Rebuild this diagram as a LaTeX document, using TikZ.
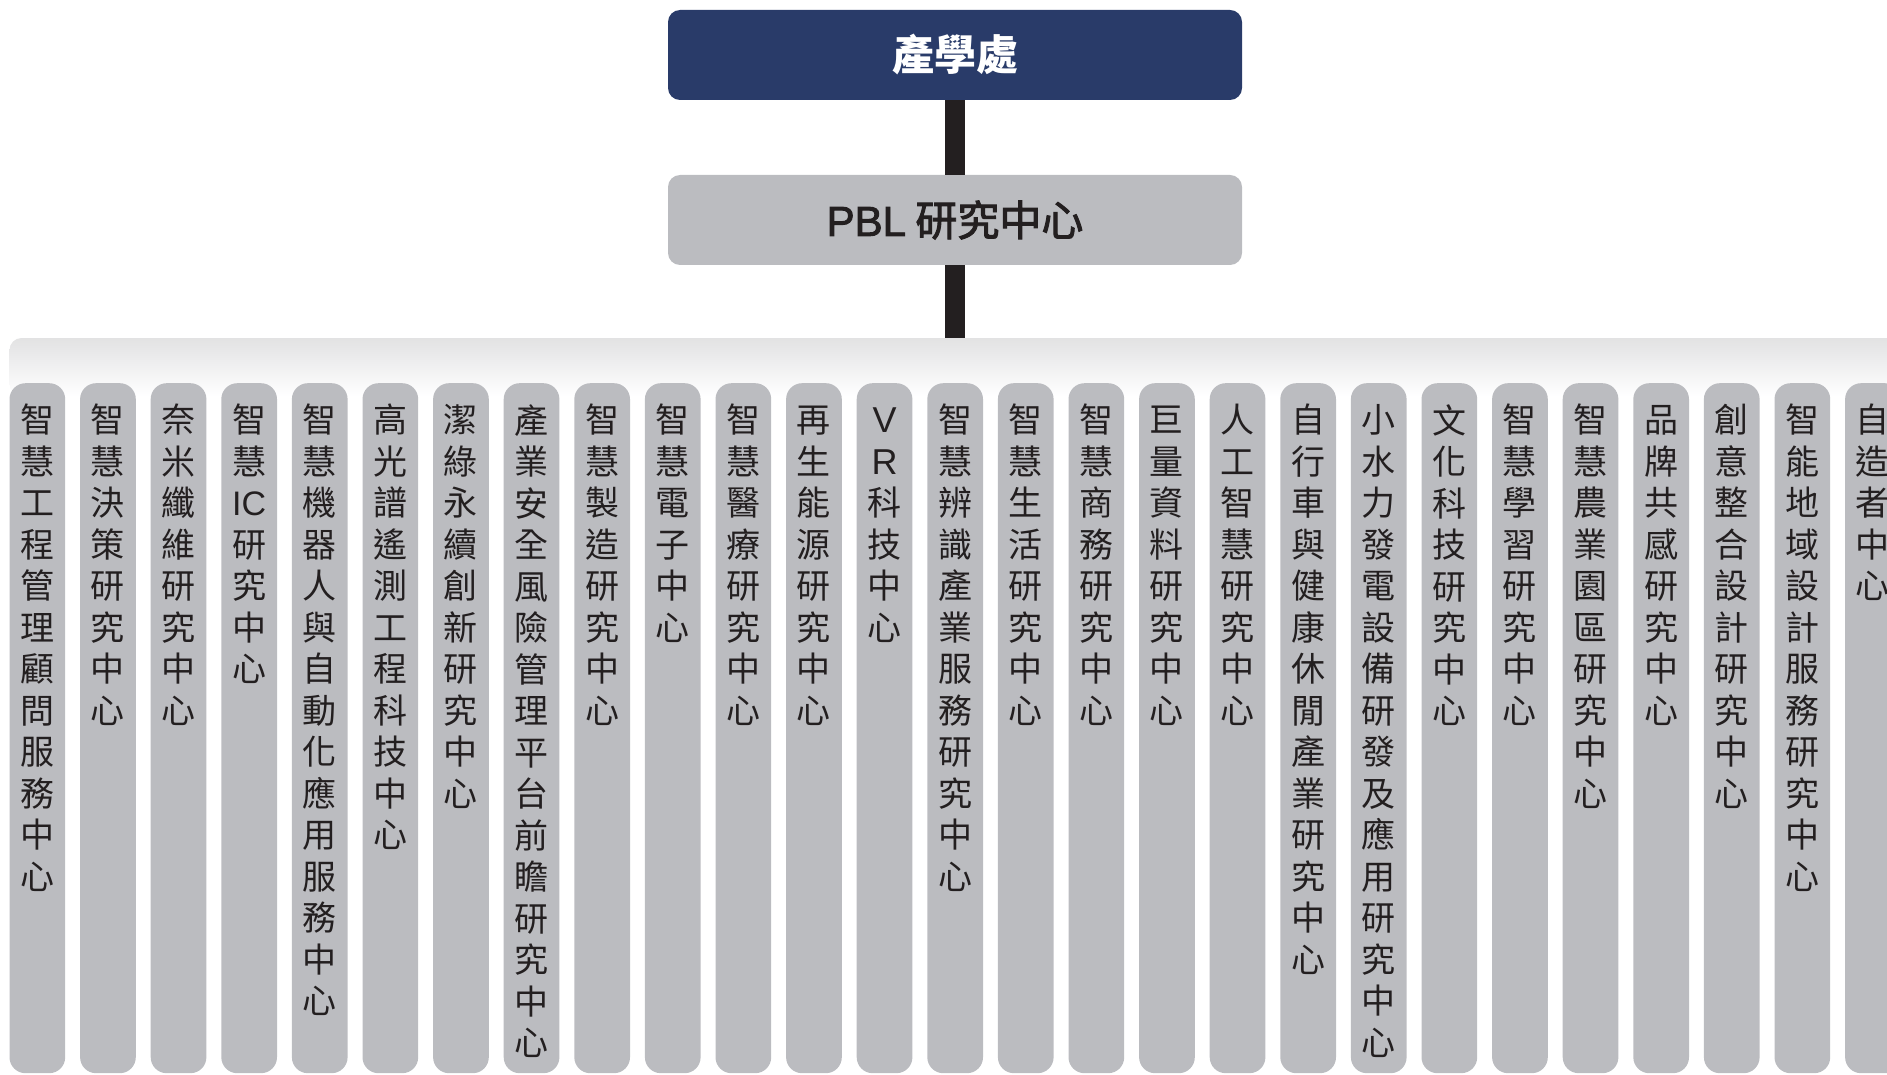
\documentclass[tikz,border=0pt]{standalone}
\usepackage{fontspec}
\setmainfont{Noto Sans CJK TC}
\newfontfamily\lat{Liberation Sans}
\newfontfamily\latmed{Liberation Sans}[FakeBold=2.2]
\newfontfamily\cjkmed{Noto Sans CJK TC}[FakeBold=2.2]
\usetikzlibrary{positioning}
\definecolor{navy}{HTML}{293B69}
\definecolor{boxgray}{HTML}{BBBCC0}
\definecolor{ink}{HTML}{231F20}
\definecolor{bargray}{HTML}{E2E2E3}
\begin{document}
\begin{tikzpicture}[x=1pt,y=-1pt,
  topbox/.style={fill=navy, rounded corners=12pt, minimum width=574pt, minimum height=90pt, inner sep=0pt, text=white, font=\fontsize{42}{50}\selectfont\bfseries},
  midbox/.style={fill=boxgray, rounded corners=12pt, minimum width=574pt, minimum height=90pt, inner sep=0pt, text=ink, font=\fontsize{42}{50}\selectfont\cjkmed},
  link/.style={draw=ink, line width=20pt},
  colbox/.style={fill=boxgray, rounded corners=16pt, minimum width=55.7pt, minimum height=690pt, inner sep=0pt, anchor=north west},
  coltext/.style={text=ink, font=\fontsize{34}{41.5}\selectfont, align=center, anchor=north, inner sep=0pt},
]
\useasboundingbox (0,0) rectangle (1887,1075);
% bar
\shade[top color=bargray, bottom color=white, rounded corners=12pt] (9.5,338) rectangle (1930,396);
\coordinate (bartop) at (955,338);
% boxes
\node[topbox] (top) at (955,55) {產學處};
\node[midbox] (pbl) at (955,220) {{\latmed PBL} 研究中心};
\draw[link] (top.south) -- (pbl.north);
\draw[link] (pbl.south) -- (bartop);
% columns
\foreach \t [count=\i from 0] in {
 {智\\慧\\工\\程\\管\\理\\顧\\問\\服\\務\\中\\心},
 {智\\慧\\決\\策\\研\\究\\中\\心},
 {奈\\米\\纖\\維\\研\\究\\中\\心},
 {智\\慧\\{\lat IC}\\研\\究\\中\\心},
 {智\\慧\\機\\器\\人\\與\\自\\動\\化\\應\\用\\服\\務\\中\\心},
 {高\\光\\譜\\遙\\測\\工\\程\\科\\技\\中\\心},
 {潔\\綠\\永\\續\\創\\新\\研\\究\\中\\心},
 {產\\業\\安\\全\\風\\險\\管\\理\\平\\台\\前\\瞻\\研\\究\\中\\心},
 {智\\慧\\製\\造\\研\\究\\中\\心},
 {智\\慧\\電\\子\\中\\心},
 {智\\慧\\醫\\療\\研\\究\\中\\心},
 {再\\生\\能\\源\\研\\究\\中\\心},
 {{\fontsize{36}{41.5}\selectfont\lat V}\\{\fontsize{36}{41.5}\selectfont\lat R}\\科\\技\\中\\心},
 {智\\慧\\辨\\識\\產\\業\\服\\務\\研\\究\\中\\心},
 {智\\慧\\生\\活\\研\\究\\中\\心},
 {智\\慧\\商\\務\\研\\究\\中\\心},
 {巨\\量\\資\\料\\研\\究\\中\\心},
 {人\\工\\智\\慧\\研\\究\\中\\心},
 {自\\行\\車\\與\\健\\康\\休\\閒\\產\\業\\研\\究\\中\\心},
 {小\\水\\力\\發\\電\\設\\備\\研\\發\\及\\應\\用\\研\\究\\中\\心},
 {文\\化\\科\\技\\研\\究\\中\\心},
 {智\\慧\\學\\習\\研\\究\\中\\心},
 {智\\慧\\農\\業\\園\\區\\研\\究\\中\\心},
 {品\\牌\\共\\感\\研\\究\\中\\心},
 {創\\意\\整\\合\\設\\計\\研\\究\\中\\心},
 {智\\能\\地\\域\\設\\計\\服\\務\\研\\究\\中\\心},
 {自\\造\\者\\中\\心}} {
  \pgfmathsetmacro\xx{9.3+70.6*\i}
  \node[colbox] (col\i) at (\xx,383) {};
  \node[coltext] (txt\i) at ([yshift=-21pt]col\i.north) {\vphantom{智}\t};
}
\end{tikzpicture}
\end{document}
